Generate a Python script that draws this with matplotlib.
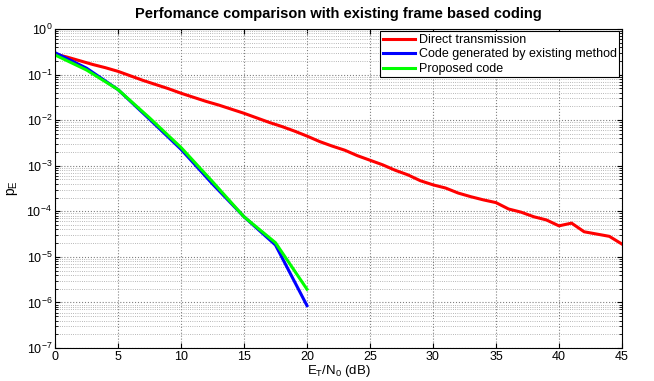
import numpy as np
import matplotlib
matplotlib.use("Agg")
import matplotlib.pyplot as plt
from matplotlib.ticker import LogLocator, NullFormatter

plt.rcParams['font.family'] = ['Liberation Sans', 'DejaVu Sans']
plt.rcParams['mathtext.default'] = 'regular'

# Direct transmission, 0..45 dB in 1 dB steps (log10 of p_E)
snr_direct = list(range(0, 46))
log_direct = [-0.55, -0.62, -0.70, -0.78, -0.85, -0.93, -1.03, -1.13, -1.22, -1.31,
              -1.41, -1.50, -1.59, -1.67, -1.76, -1.85, -1.95, -2.05, -2.14, -2.24,
              -2.35, -2.47, -2.57, -2.66, -2.78, -2.88, -2.98, -3.10, -3.20, -3.33,
              -3.42, -3.49, -3.60, -3.68, -3.75, -3.81, -3.95, -4.02, -4.12, -4.19,
              -4.32, -4.26, -4.45, -4.50, -4.55, -4.72]

# coded schemes, 0..20 dB in 2.5 dB steps
snr_coded = [0, 2.5, 5, 7.5, 10, 12.5, 15, 17.5, 20]
log_existing = [-0.52, -0.86, -1.33, -1.98, -2.64, -3.40, -4.12, -4.74, -6.07]
log_proposed = [-0.57, -0.90, -1.33, -1.95, -2.60, -3.35, -4.12, -4.69, -5.71]

pe_direct = 10 ** np.array(log_direct)
pe_existing = 10 ** np.array(log_existing)
pe_proposed = 10 ** np.array(log_proposed)

fig = plt.figure(figsize=(6.54, 3.81), dpi=100)
ax = fig.add_axes([0.0841, 0.0866, 0.8669, 0.8374])

ax.semilogy(snr_direct, pe_direct, color='#ff0000', lw=2.2, label='Direct transmission')
ax.semilogy(snr_coded, pe_existing, color='#0000ff', lw=2.2, label='Code generated by existing method')
ax.semilogy(snr_coded, pe_proposed, color='#00ff00', lw=2.2, label='Proposed code')

ax.set_xlim(0, 45)
ax.set_ylim(1e-7, 1)
ax.set_xticks(range(0, 46, 5))
ax.yaxis.set_major_locator(LogLocator(base=10, numticks=10))
ax.yaxis.set_minor_locator(LogLocator(base=10, subs=np.arange(2, 10), numticks=10))
ax.yaxis.set_minor_formatter(NullFormatter())

ax.grid(True, which='major', linestyle=':', color='#808080', lw=0.8)
ax.grid(True, which='minor', axis='y', linestyle=':', color='#a0a0a0', lw=0.6)
ax.tick_params(which='both', direction='in', top=True, right=True, labelsize=9, pad=2)
ax.tick_params(which='minor', length=2)

ax.set_title('Perfomance comparison with existing frame based coding',
             fontsize=10.5, fontweight='bold', pad=8)
ax.set_xlabel('E$_T$/N$_0$ (dB)', fontsize=9.5, labelpad=0)
ax.set_ylabel('p$_E$', fontsize=10, labelpad=5)

leg = ax.legend(loc='upper right', fontsize=9, fancybox=False, framealpha=1,
                edgecolor='black', borderpad=0.2, labelspacing=0.2,
                handlelength=2.6, handletextpad=0.3, borderaxespad=0.2)
leg.get_frame().set_linewidth(0.8)

fig.savefig('out.png', dpi=100)
